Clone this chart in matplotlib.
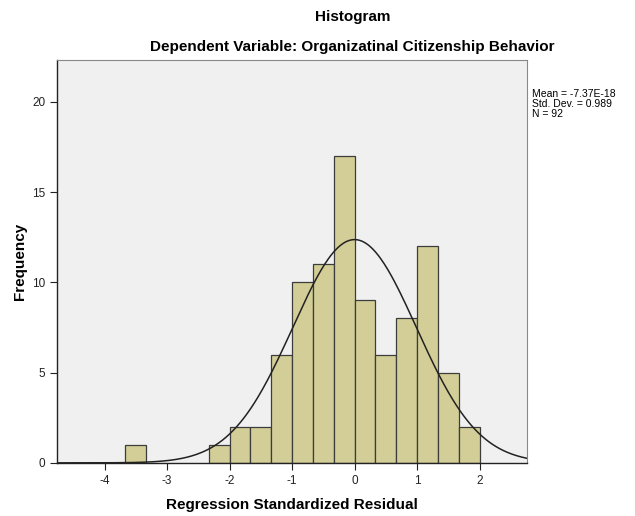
import numpy as np
import matplotlib
matplotlib.use('Agg')
import matplotlib.pyplot as plt

# histogram bins (width 1/3) starting at left edge
bin_start = -11 / 3.0
bin_width = 1 / 3.0
counts = [1, 0, 0, 0, 1, 2, 2, 6, 10, 11, 17, 9, 6, 8, 12, 5, 2]

mean = -7.37e-18
sd = 0.989
n = 92
xticks = [-4, -3, -2, -1, 0, 1, 2]
yticks = [0, 5, 10, 15, 20]

plt.rcParams['font.family'] = 'Liberation Sans'
plt.rcParams['axes.unicode_minus'] = False

fig = plt.figure(figsize=(6.35, 5.16), dpi=100)
ax = fig.add_axes([0.09, 0.103, 0.74, 0.78])
ax.set_facecolor('#f0f0f0')

lefts = bin_start + bin_width * np.arange(len(counts))
for l, c in zip(lefts, counts):
    if c > 0:
        ax.bar(l, c, width=bin_width, align='edge', color='#d3ce97',
               edgecolor='#3c3c3c', linewidth=0.9, zorder=2)

xs = np.linspace(-4.8, 2.8, 400)
pdf = n * bin_width * np.exp(-0.5 * ((xs - mean) / sd) ** 2) / (sd * np.sqrt(2 * np.pi))
ax.plot(xs, pdf, color='#222222', linewidth=1.1, zorder=3)

ax.set_xlim(-4.76, 2.76)
ax.set_ylim(0, 22.3)
ax.set_xticks(xticks)
ax.set_yticks(yticks)
ax.tick_params(direction='out', length=5, width=0.8, labelsize=8.5, colors='#222222')
for s in ['left', 'bottom']:
    ax.spines[s].set_color('#222222')
    ax.spines[s].set_linewidth(1.0)
for s in ['top', 'right']:
    ax.spines[s].set_color('#888888')
    ax.spines[s].set_linewidth(0.8)

ax.set_xlabel('Regression Standardized Residual', fontsize=11, fontweight='bold', labelpad=8)
ax.set_ylabel('Frequency', fontsize=11, fontweight='bold', labelpad=4)

fig.text(0.555, 0.968, 'Histogram', ha='center', va='center', fontsize=11, fontweight='bold')
fig.text(0.555, 0.908, 'Dependent Variable: Organizatinal Citizenship Behavior',
         ha='center', va='center', fontsize=11, fontweight='bold')

fig.text(0.838, 0.828, 'Mean = -7.37E-18\nStd. Dev. = 0.989\nN = %d' % n,
         ha='left', va='top', fontsize=7.5, linespacing=1.0)

fig.savefig('out.png', dpi=100, facecolor='white')
